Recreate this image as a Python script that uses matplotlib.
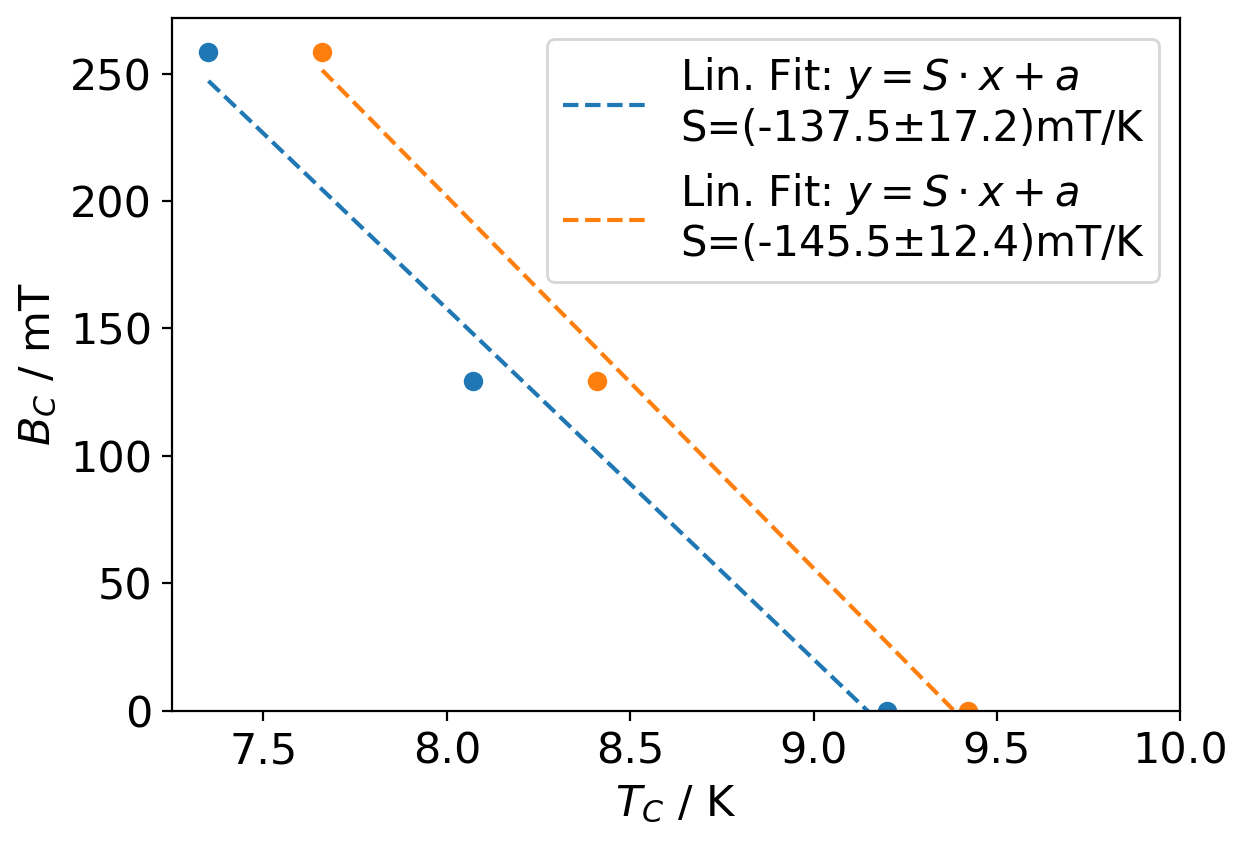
import numpy as np
import matplotlib.pyplot as plt

plt.rcParams['font.size'] = 15.5

# measured transition points
b_c = [258.6, 129.3, 0.0]
t_c_1 = [7.35, 8.07, 9.20]
t_c_2 = [7.66, 8.41, 9.42]
slope_labels = ['S=(-137.5±17.2)mT/K', 'S=(-145.5±12.4)mT/K']

fig, ax = plt.subplots(figsize=(6.225, 4.235), dpi=200)
fig.subplots_adjust(left=0.138, right=0.948, top=0.979, bottom=0.161)

for t, lab, col in zip([t_c_1, t_c_2], slope_labels, ['C0', 'C1']):
    ax.plot(t, b_c, 'o', color=col)
    p = np.polyfit(t, b_c, 1)
    xs = np.array([t[0], t[-1]])
    ax.plot(xs, np.polyval(p, xs), '--', color=col,
            label='Lin. Fit: $y = S\\cdot x + a$\n' + lab)

ax.set_xlim(7.25, 10.0)
ax.set_ylim(bottom=0)
ax.set_xlabel('$T_C$ / K')
ax.set_ylabel('$B_C$ / mT')
ax.legend(loc='upper right', fontsize=15)

plt.savefig('out.png')
